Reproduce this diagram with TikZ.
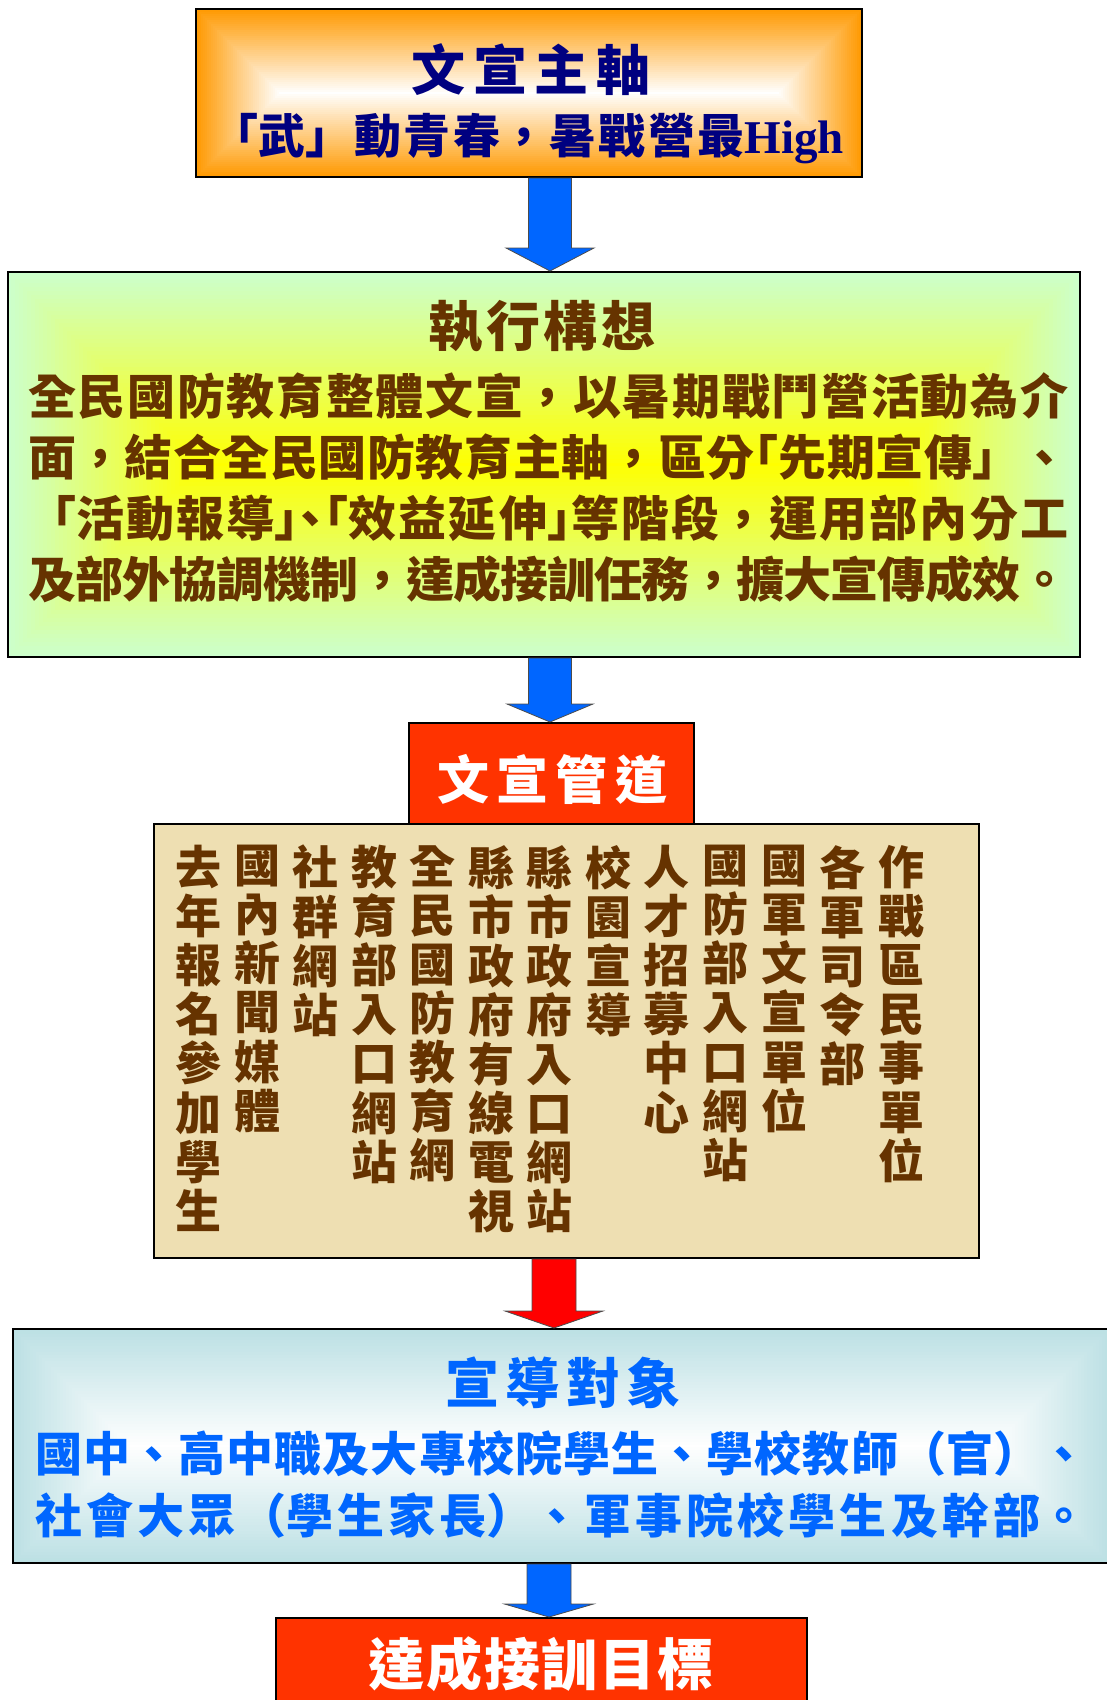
\documentclass[tikz,border=0pt]{standalone}
\usepackage{fontspec}
\usetikzlibrary{calc,backgrounds}
\newfontfamily\cjk{Noto Sans CJK TC}
\newfontfamily\cjkhalf{Noto Sans CJK TC}[RawFeature=+halt]
\newfontfamily\latinserif{Liberation Serif}
\XeTeXlinebreaklocale "zh"
\XeTeXlinebreakskip=0pt plus 8pt minus 2pt

\definecolor{deeporange}{RGB}{255,153,0}
\definecolor{palegreen}{RGB}{204,255,204}
\definecolor{brightyellow}{RGB}{255,255,0}
\definecolor{paleteal}{RGB}{188,224,228}
\definecolor{tanbg}{RGB}{238,223,178}
\definecolor{signalred}{RGB}{255,51,0}
\definecolor{arrowblue}{RGB}{0,102,255}
\definecolor{arrowred}{RGB}{255,0,0}
\definecolor{navytext}{RGB}{0,0,128}
\definecolor{browntext}{RGB}{102,51,0}
\definecolor{bluetext}{RGB}{0,102,255}

% box filled from the edge colour to the centre colour in equal insets
\newcommand\fadebox[5]{%
  \foreach \k in {0,...,#4}{%
    \pgfmathtruncatemacro\mixpct{100*\k/#4}%
    \fill[#3!\mixpct!#2] ($(#1.north west)+(\k*#5,\k*#5)$) rectangle ($(#1.south east)-(\k*#5,\k*#5)$);}}

% fat block arrow from one box down to the next
\newcommand\blockarrow[7]{%
  \coordinate (tail) at (#4,0 |- #2.south);
  \coordinate (tip) at (#4,0 |- #3.north);
  \filldraw[fill=#1, draw=black!70, line width=0.8pt]
    ([xshift=-#5pt]tail) -- ([xshift=-#5pt, yshift=#7pt]tip) -- ([xshift=-#6pt, yshift=#7pt]tip)
    -- (tip) -- ([xshift=#6pt, yshift=#7pt]tip) -- ([xshift=#5pt, yshift=#7pt]tip)
    -- ([xshift=#5pt]tail) -- cycle;}

\begin{document}
\begin{tikzpicture}[x=1pt,y=-1pt,
    panel/.style={draw=black, line width=2pt, inner sep=0pt},
    redpanel/.style={panel, fill=signalred},
    heading/.style={inner sep=0pt, text width=#1, align=justify,
      execute at begin node={\parfillskip=0pt}},
    bodytext/.style={anchor=north west, inner sep=0pt, text width=#1, align=justify,
      execute at begin node={\parfillskip=0pt}},
    column/.style={anchor=north, inner sep=0pt, text width=48pt, align=center,
      text=browntext, font=\cjk\bfseries\fontsize{46}{49.1}\selectfont}]
    \useasboundingbox (0,0) rectangle (1106,1700);

    % boxes
    \node[panel, minimum width=666pt, minimum height=168pt] (axis) at (529,93) {};
    \node[panel, minimum width=1072pt, minimum height=385pt] (concept) at (544,464.5) {};
    \node[redpanel, minimum width=285pt, minimum height=101pt] (channel) at (551.5,773.5) {};
    \node[panel, fill=tanbg, minimum width=825pt, minimum height=434pt] (media) at (566.5,1041) {};
    \node[panel, minimum width=1097pt, minimum height=234pt] (audience) at (561.5,1446) {};
    \node[redpanel, minimum width=531pt, minimum height=87pt] (goal) at (541.5,1661.5) {};

    \begin{scope}[on background layer]
        \fadebox{axis}{deeporange}{white}{42}{2}
        \fadebox{concept}{palegreen}{brightyellow}{48}{4}
        \fadebox{audience}{paleteal}{white}{39}{3}
    \end{scope}

    % texts
    \node[heading=239pt, text=navytext, font=\cjk\bfseries\fontsize{54}{60}\selectfont] (axistitle) at (531,70) {文宣主軸};
    \node[heading=633pt, text=navytext, font=\cjk\bfseries\fontsize{47}{56}\selectfont] (axisslogan) at (527.5,139) {「武」動青春，暑戰營最{\latinserif High}};

    \node[heading=228pt, text=browntext, font=\cjk\bfseries\fontsize{54}{60}\selectfont] (concepttitle) at (542,327) {執行構想};
    \node[bodytext=1040pt, text=browntext, font=\cjk\bfseries\fontsize{48}{61}\selectfont] (concepttext) at (28,372)
        {全民國防教育整體文宣，以暑期戰鬥營活動為介\linebreak
         面，結合全民國防教育主軸，區分{\cjkhalf 「}先期宣傳」、\linebreak
         「活動報導{\cjkhalf 」、「}效益延伸{\cjkhalf 」}等階段，運用部內分工\linebreak
         及部外協調機制，達成接訓任務，擴大宣傳成效。};

    \node[heading=230pt, text=white, font=\cjk\bfseries\fontsize{52}{58}\selectfont] (channeltitle) at (552,779) {文宣管道};

    \foreach \words [count=\i] in {去年報名參加學生, 國內新聞媒體, 社群網站, 教育部入口網站,
        全民國防教育網, 縣市政府有線電視, 縣市政府入口網站, 校園宣導, 人才招募中心,
        國防部入口網站, 國軍文宣單位, 各軍司令部, 作戰區民事單位}
        \node[column] (col\i) at ({198.5+(\i-1)*58.55}, 845) {\words};

    \node[heading=236pt, text=bluetext, font=\cjk\bfseries\fontsize{54}{60}\selectfont] (audiencetitle) at (563,1383) {宣導對象};
    \node[bodytext=1052pt, text=bluetext, font=\cjk\bfseries\fontsize{47}{62}\selectfont] (audiencetext) at (35,1430)
        {國中、高中職及大專校院學生、學校教師（官）、\linebreak
         社會大眾（學生家長）、軍事院校學生及幹部。};

    \node[heading=345pt, text=white, font=\cjk\bfseries\fontsize{56}{62}\selectfont] (goaltitle) at (541,1664) {達成接訓目標};

    % arrows
    \blockarrow{arrowblue}{axis}{concept}{550}{21.5}{44}{23}
    \blockarrow{arrowblue}{concept}{channel}{550}{21.5}{43}{18}
    \blockarrow{arrowred}{media}{audience}{554}{22}{49}{17}
    \blockarrow{arrowblue}{audience}{goal}{549}{22}{44.5}{13}
\end{tikzpicture}
\end{document}
